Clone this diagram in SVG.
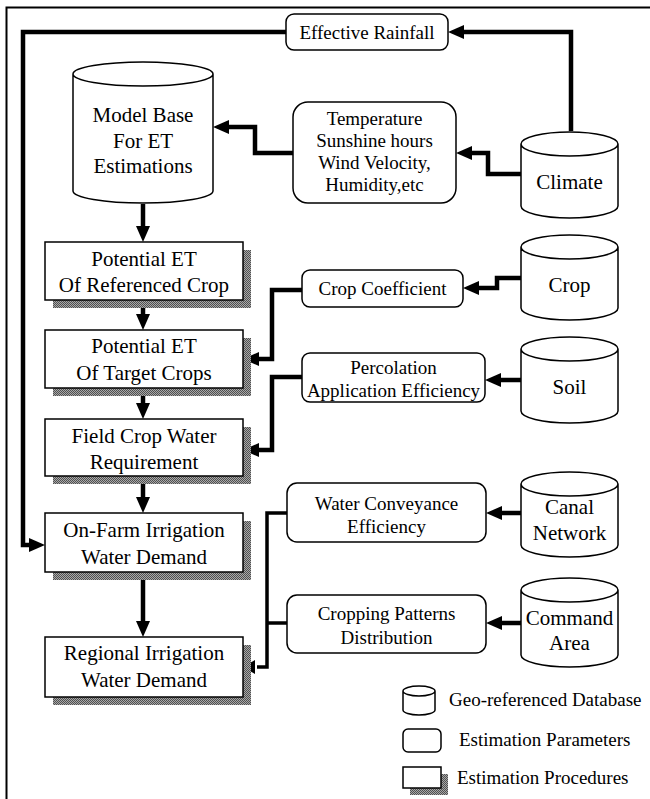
<svg xmlns="http://www.w3.org/2000/svg" width="650" height="799" viewBox="0 0 650 799">
<style>
.db{fill:#fff;stroke:#000;stroke-width:1.5}
.par{fill:#fff;stroke:#000;stroke-width:1.5}
.proc{fill:#fff;stroke:#000;stroke-width:1.5}
.sh{fill:url(#dither);stroke:none}
.t19{font-family:"Liberation Serif","Times New Roman",serif;font-size:19px;fill:#000;text-anchor:middle}
.t21{font-family:"Liberation Serif","Times New Roman",serif;font-size:21px;fill:#000;text-anchor:middle}
.leg{font-family:"Liberation Serif","Times New Roman",serif;font-size:19px;fill:#000}
.c{fill:none;stroke:#000;stroke-width:4.5;stroke-linejoin:miter;marker-end:url(#ah)}
.cn{fill:none;stroke:#000;stroke-width:3.5;stroke-linejoin:miter}
</style>
<defs>
<pattern id="dither" width="2" height="2" patternUnits="userSpaceOnUse">
<rect width="2" height="2" fill="#a8a8a8"/>
<rect width="1" height="1" fill="#505050"/>
<rect x="1" y="1" width="1" height="1" fill="#505050"/>
</pattern>
<marker id="ah" viewBox="0 0 16 14" refX="4" refY="7" markerWidth="16" markerHeight="14" markerUnits="userSpaceOnUse" orient="auto">
<path d="M0,0 L16,7 L0,14 z" fill="#000"/>
</marker>
</defs>
<rect width="650" height="799" fill="#fff"/>
<path id="frame" d="M6.5,799 V7.5 H650" fill="none" stroke="#000" stroke-width="2"/>

<g id="connectors">
<path class="c" d="M286,32 H23 V545 H33"/>
<path class="c" d="M571,131 V32 H460"/>
<path class="c" d="M521,174 H488 V153 H468"/>
<path class="c" d="M293,153 H255 V127 H225"/>
<path class="c" d="M143,204 V230"/>
<path class="c" d="M143,300 V318"/>
<path class="c" d="M143,388 V407"/>
<path class="c" d="M143,476 V501"/>
<path class="c" d="M143,572 V625"/>
<path class="c" d="M521,278 H497 V288 H475"/>
<path class="c" d="M302,290 H272 V359 H255"/>
<path class="c" d="M521,380 H497"/>
<path class="c" d="M302,377 H272 V450 H255"/>
<path class="c" d="M521,513 H498"/>
<path class="c" d="M521,623 H498"/>
<path class="cn" d="M287,513 H267 V667 H257"/>
<path class="cn" d="M287,623 H267"/>
<path d="M255,660 L243,667 L255,674 z" fill="#000"/>
</g>

<g id="effective-rainfall">
<rect class="par" x="286" y="14" width="162" height="36" rx="8"/>
<text class="t19" x="367" y="39">Effective Rainfall</text>
</g>

<g id="model-base">
<path class="db" d="M73,74 A70,12 0 0 1 213,74 A70,12 0 0 1 73,74 V191 A70,12 0 0 0 213,191 V74"/>
<text class="t21" x="143" y="122">Model Base</text>
<text class="t21" x="143" y="148">For ET</text>
<text class="t21" x="143" y="173">Estimations</text>
</g>

<g id="temperature">
<rect class="par" x="293" y="102" width="163" height="101" rx="15"/>
<text class="t19" x="374.5" y="125">Temperature</text>
<text class="t19" x="374.5" y="147">Sunshine hours</text>
<text class="t19" x="374.5" y="169">Wind Velocity,</text>
<text class="t19" x="374.5" y="191">Humidity,etc</text>
</g>

<g id="climate">
<path class="db" d="M521,144 A48.5,12 0 0 1 618,144 A48.5,12 0 0 1 521,144 V206 A48.5,12 0 0 0 618,206 V144"/>
<text class="t21" x="569.5" y="189">Climate</text>
</g>

<g id="potential-et-ref">
<rect class="sh" x="53" y="250" width="198" height="58"/>
<rect class="proc" x="45" y="242" width="198" height="58"/>
<text class="t21" x="144" y="266">Potential ET</text>
<text class="t21" x="144" y="292">Of Referenced Crop</text>
</g>

<g id="potential-et-target">
<rect class="sh" x="53" y="338" width="198" height="58"/>
<rect class="proc" x="45" y="330" width="198" height="58"/>
<text class="t21" x="144" y="353">Potential ET</text>
<text class="t21" x="144" y="380">Of Target Crops</text>
</g>

<g id="field-crop">
<rect class="sh" x="53" y="427" width="198" height="57"/>
<rect class="proc" x="45" y="419" width="198" height="57"/>
<text class="t21" x="144" y="443">Field Crop Water</text>
<text class="t21" x="144" y="469">Requirement</text>
</g>

<g id="on-farm">
<rect class="sh" x="53" y="521" width="198" height="59"/>
<rect class="proc" x="45" y="513" width="198" height="59"/>
<text class="t21" x="144" y="537">On-Farm Irrigation</text>
<text class="t21" x="144" y="564">Water Demand</text>
</g>

<g id="regional">
<rect class="sh" x="53" y="645" width="198" height="60"/>
<rect class="proc" x="45" y="637" width="198" height="60"/>
<text class="t21" x="144" y="660">Regional Irrigation</text>
<text class="t21" x="144" y="687">Water Demand</text>
</g>

<g id="crop-coefficient">
<rect class="par" x="302" y="270" width="161" height="37" rx="8"/>
<text class="t19" x="382.5" y="295">Crop Coefficient</text>
</g>

<g id="crop">
<path class="db" d="M521,247 A48.5,12 0 0 1 618,247 A48.5,12 0 0 1 521,247 V308 A48.5,12 0 0 0 618,308 V247"/>
<text class="t21" x="569.5" y="292">Crop</text>
</g>

<g id="percolation">
<rect class="par" x="302" y="353" width="183" height="49" rx="8"/>
<text class="t19" x="393.5" y="374">Percolation</text>
<text class="t19" x="393.5" y="397">Application Efficiency</text>
</g>

<g id="soil">
<path class="db" d="M521,349 A48.5,12 0 0 1 618,349 A48.5,12 0 0 1 521,349 V411 A48.5,12 0 0 0 618,411 V349"/>
<text class="t21" x="569.5" y="394">Soil</text>
</g>

<g id="water-conveyance">
<rect class="par" x="287" y="483" width="199" height="59" rx="10"/>
<text class="t19" x="386.5" y="510">Water Conveyance</text>
<text class="t19" x="386.5" y="533">Efficiency</text>
</g>

<g id="canal-network">
<path class="db" d="M521,484 A48.5,12 0 0 1 618,484 A48.5,12 0 0 1 521,484 V545 A48.5,12 0 0 0 618,545 V484"/>
<text class="t21" x="569.5" y="514">Canal</text>
<text class="t21" x="569.5" y="540">Network</text>
</g>

<g id="cropping-patterns">
<rect class="par" x="287" y="595" width="199" height="58" rx="10"/>
<text class="t19" x="386.5" y="620">Cropping Patterns</text>
<text class="t19" x="386.5" y="644">Distribution</text>
</g>

<g id="command-area">
<path class="db" d="M521,590 A48.5,12 0 0 1 618,590 A48.5,12 0 0 1 521,590 V655 A48.5,12 0 0 0 618,655 V590"/>
<text class="t21" x="569.5" y="625">Command</text>
<text class="t21" x="569.5" y="650">Area</text>
</g>

<g id="legend">
<path class="db" d="M403,691 A16,5 0 0 1 435,691 A16,5 0 0 1 403,691 V710 A16,5 0 0 0 435,710 V691"/>
<text class="leg" x="449" y="706">Geo-referenced Database</text>
<rect class="par" x="403" y="729" width="38" height="23" rx="5"/>
<text class="leg" x="459" y="746">Estimation Parameters</text>
<rect class="sh" x="410" y="774" width="38" height="21"/>
<rect class="proc" x="403" y="767" width="38" height="21"/>
<text class="leg" x="457" y="784">Estimation Procedures</text>
</g>
</svg>
